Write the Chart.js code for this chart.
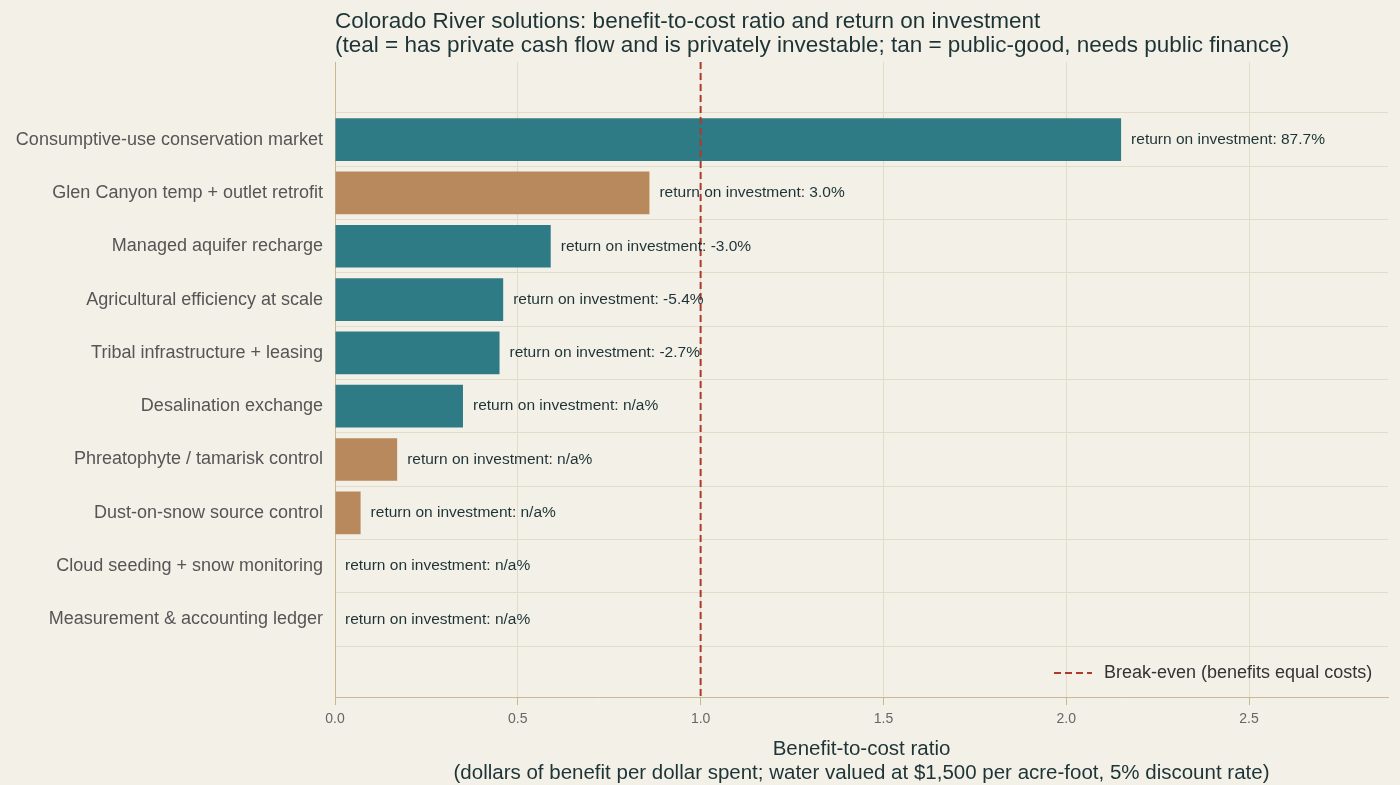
<!DOCTYPE html>
<html>
<head>
<meta charset="utf-8">
<script src="https://cdn.jsdelivr.net/npm/chart.js@4"></script>
<style>
  html, body { margin: 0; padding: 0; background: #f3f0e7; }
  #wrap { width: 1400px; height: 785px; }
</style>
</head>
<body>
<div id="wrap"><canvas id="chart"></canvas></div>
<script>
const solutions = [
    'Consumptive-use conservation market',
    'Glen Canyon temp + outlet retrofit',
    'Managed aquifer recharge',
    'Agricultural efficiency at scale',
    'Tribal infrastructure + leasing',
    'Desalination exchange',
    'Phreatophyte / tamarisk control',
    'Dust-on-snow source control',
    'Cloud seeding + snow monitoring',
    'Measurement & accounting ledger'
];
const benefitCost = [2.15, 0.86, 0.59, 0.46, 0.45, 0.35, 0.17, 0.07, 0, 0];
const roi = ['87.7', '3.0', '-3.0', '-5.4', '-2.7', 'n/a', 'n/a', 'n/a', 'n/a', 'n/a'];
const investable = [true, false, true, true, true, true, false, false, true, true];
const breakEven = 1.0;
const xTicks = [0, 0.5, 1.0, 1.5, 2.0, 2.5];

const teal = '#2e7b86';
const tan = '#b8895c';
const ink = '#1d3336';
const font = '"Liberation Sans", Arial, sans-serif';

const overlay = {
    id: 'overlay',
    afterDatasetsDraw(chart) {
        const ctx = chart.ctx;
        const area = chart.chartArea;
        const xs = chart.scales.x;
        const meta = chart.getDatasetMeta(0);
        ctx.save();
        // break-even line
        const bx = xs.getPixelForValue(breakEven);
        ctx.strokeStyle = '#b0392a';
        ctx.lineWidth = 2;
        ctx.setLineDash([7, 4]);
        ctx.beginPath();
        ctx.moveTo(bx, area.top);
        ctx.lineTo(bx, area.bottom);
        ctx.stroke();
        // roi labels
        ctx.setLineDash([]);
        ctx.font = '15.5px ' + font;
        ctx.fillStyle = ink;
        ctx.textBaseline = 'middle';
        meta.data.forEach((bar, i) => {
            ctx.fillText('return on investment: ' + roi[i] + '%', bar.x + 10, bar.y);
        });
        // legend
        const ly = area.bottom - 24;
        ctx.strokeStyle = '#b0392a';
        ctx.setLineDash([7, 4]);
        ctx.beginPath();
        ctx.moveTo(1054, ly);
        ctx.lineTo(1092, ly);
        ctx.stroke();
        ctx.setLineDash([]);
        ctx.font = '18px ' + font;
        ctx.fillStyle = '#333';
        ctx.fillText('Break-even (benefits equal costs)', 1104, ly);
        // title
        ctx.font = '22.5px ' + font;
        ctx.fillStyle = ink;
        ctx.textBaseline = 'alphabetic';
        ctx.fillText('Colorado River solutions: benefit-to-cost ratio and return on investment', area.left, 28);
        ctx.fillText('(teal = has private cash flow and is privately investable; tan = public-good, needs public finance)', area.left, 52);
        ctx.restore();
    }
};

new Chart(document.getElementById('chart').getContext('2d'), {
    type: 'bar',
    data: {
        datasets: [{
            data: benefitCost.map((v, i) => ({ x: v, y: i })),
            backgroundColor: investable.map(v => v ? teal : tan),
            categoryPercentage: 0.8,
            barPercentage: 1.0
        }]
    },
    options: {
        indexAxis: 'y',
        responsive: true,
        maintainAspectRatio: false,
        animation: false,
        layout: { padding: { top: 62, right: 12, bottom: 0, left: 6 } },
        plugins: { legend: { display: false }, tooltip: { enabled: false } },
        scales: {
            x: {
                type: 'linear',
                min: 0,
                max: 2.88,
                afterBuildTicks(scale) { scale.ticks = xTicks.map(v => ({ value: v })); },
                ticks: {
                    color: '#666',
                    padding: 6,
                    font: { size: 14, family: font },
                    callback: v => v.toFixed(1)
                },
                grid: { color: '#e2dcc8', drawTicks: true, tickColor: '#c8b98f' },
                border: { color: '#c8b98f' },
                title: {
                    display: true,
                    text: ['Benefit-to-cost ratio', '(dollars of benefit per dollar spent; water valued at $1,500 per acre-foot, 5% discount rate)'],
                    color: ink,
                    font: { size: 20.5, family: font, lineHeight: 1.15 },
                    padding: { top: 4, bottom: 0 }
                }
            },
            y: {
                type: 'linear',
                reverse: true,
                min: -0.86,
                max: 9.86,
                afterBuildTicks(scale) { scale.ticks = solutions.map((s, i) => ({ value: i })); },
                afterFit(scale) { scale.width = 329; },
                ticks: {
                    color: '#555',
                    padding: 12,
                    font: { size: 18, family: font },
                    callback: v => solutions[v]
                },
                grid: { color: '#e2dcc8', drawTicks: false },
                border: { color: '#c8b98f' }
            }
        }
    },
    plugins: [overlay]
});
</script>
</body>
</html>
